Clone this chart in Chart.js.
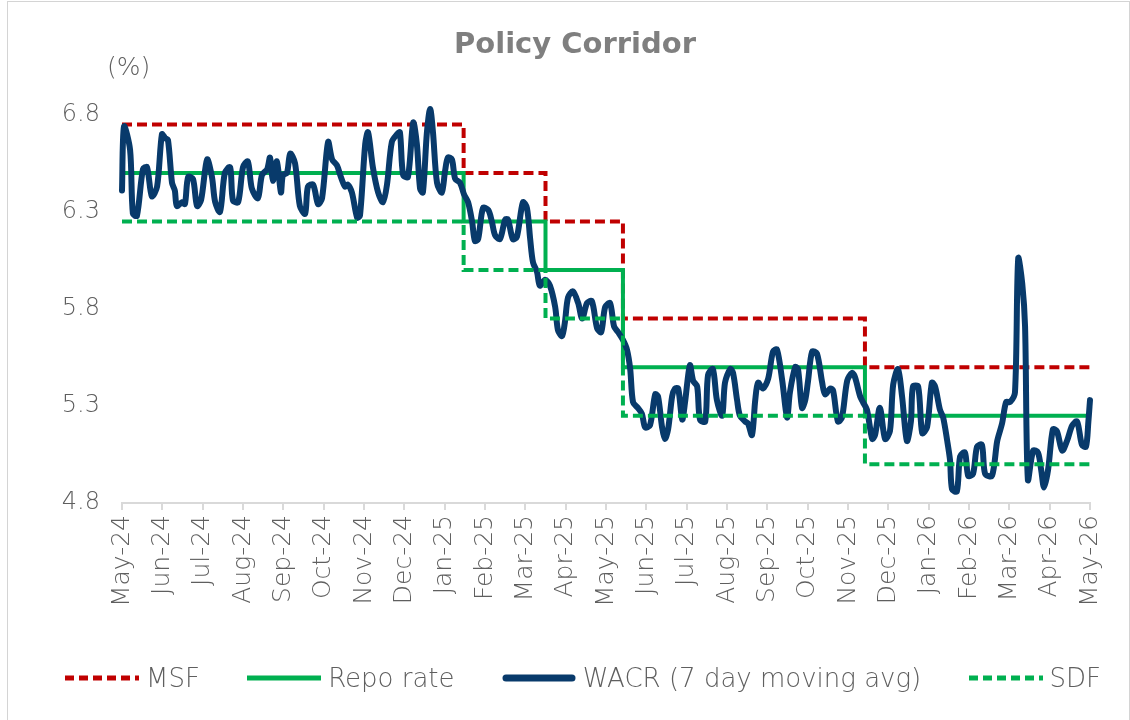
<!DOCTYPE html>
<html>
<head>
<meta charset="utf-8">
<script src="https://cdn.jsdelivr.net/npm/chart.js@4.4.1/dist/chart.umd.min.js"></script>
<style>
    html, body { margin: 0; padding: 0; background: #ffffff; }
    #frame { position: absolute; left: 7px; top: 1px; width: 1121px; height: 730px; border: 1px solid #d4d4d4; }
    #wrap { position: absolute; left: 0; top: 0; width: 1130px; height: 720px; }
    #legend {
        position: absolute; left: 65px; top: 660px; width: 1036px; height: 36px;
        display: flex; justify-content: space-between; align-items: center;
        font-family: "DejaVu Sans", sans-serif; font-weight: 300; font-size: 26px; color: #5f5f5f;
    }
    .legend-item { display: flex; align-items: center; white-space: nowrap; }
    .legend-item svg { margin-right: 7px; }
</style>
</head>
<body>
<div id="frame"></div>
<div id="wrap"><canvas id="corridorChart"></canvas></div>
<div id="legend"></div>
<script>
// Month tick labels (x = month index from May-24)
const monthLabels = ['May-24', 'Jun-24', 'Jul-24', 'Aug-24', 'Sep-24', 'Oct-24', 'Nov-24', 'Dec-24',
    'Jan-25', 'Feb-25', 'Mar-25', 'Apr-25', 'May-25', 'Jun-25', 'Jul-25', 'Aug-25', 'Sep-25',
    'Oct-25', 'Nov-25', 'Dec-25', 'Jan-26', 'Feb-26', 'Mar-26', 'Apr-26', 'May-26'];

// Policy rate changes (month index where each level starts)
const stepMonths = [0, 8.47, 10.5, 12.42, 18.42, 24];
const msfRates   = [6.75, 6.5, 6.25, 5.75, 5.5, 5.5];
const repoRates  = [6.5, 6.25, 6.0, 5.5, 5.25, 5.25];
const sdfRates   = [6.25, 6.0, 5.75, 5.25, 5.0, 5.0];

// WACR, 7 day moving average
const wacrMonths = [
    0.00, 0.05, 0.20, 0.27, 0.37, 0.52, 0.62, 0.74, 0.87, 0.99, 1.07, 1.14, 1.24, 1.31, 1.36, 1.49,
    1.56, 1.64, 1.76, 1.86, 1.96, 2.11, 2.23, 2.31, 2.43, 2.55, 2.68, 2.75, 2.88, 3.00, 3.12, 3.22,
    3.37, 3.47, 3.60, 3.67, 3.74, 3.84, 3.94, 3.99, 4.09, 4.17, 4.29, 4.41, 4.54, 4.61, 4.74, 4.86,
    4.96, 5.11, 5.21, 5.33, 5.41, 5.53, 5.60, 5.70, 5.83, 5.90, 6.03, 6.10, 6.22, 6.35, 6.47, 6.57,
    6.69, 6.82, 6.89, 6.97, 7.09, 7.22, 7.31, 7.39, 7.46, 7.56, 7.64, 7.71, 7.81, 7.93, 8.01, 8.08,
    8.18, 8.26, 8.38, 8.48, 8.58, 8.68, 8.75, 8.83, 8.95, 9.08, 9.17, 9.25, 9.37, 9.50, 9.57, 9.69,
    9.79, 9.94, 10.04, 10.12, 10.19, 10.29, 10.36, 10.49, 10.61, 10.74, 10.81, 10.91, 10.98, 11.06,
    11.18, 11.31, 11.41, 11.53, 11.65, 11.78, 11.88, 11.98, 12.10, 12.20, 12.30, 12.42, 12.52, 12.60,
    12.67, 12.79, 12.89, 12.97, 13.09, 13.22, 13.29, 13.39, 13.46, 13.54, 13.64, 13.71, 13.79, 13.89,
    13.96, 14.08, 14.16, 14.26, 14.33, 14.46, 14.53, 14.65, 14.75, 14.88, 14.95, 15.08, 15.15, 15.25,
    15.32, 15.45, 15.52, 15.62, 15.70, 15.77, 15.89, 16.02, 16.14, 16.24, 16.37, 16.49, 16.56, 16.69,
    16.76, 16.86, 16.94, 17.01, 17.11, 17.23, 17.36, 17.43, 17.56, 17.63, 17.75, 17.85, 17.98, 18.10,
    18.17, 18.30, 18.37, 18.47, 18.60, 18.67, 18.79, 18.92, 19.04, 19.12, 19.24, 19.34, 19.46, 19.56,
    19.61, 19.74, 19.84, 19.96, 20.08, 20.16, 20.28, 20.36, 20.46, 20.53, 20.58, 20.70, 20.78, 20.90,
    20.98, 21.10, 21.20, 21.32, 21.40, 21.57, 21.70, 21.82, 21.92, 22.02, 22.14, 22.22, 22.32, 22.39,
    22.46, 22.59, 22.71, 22.79, 22.86, 22.96, 23.08, 23.18, 23.31, 23.43, 23.56, 23.68, 23.80, 23.90,
    23.96, 24.00
];
const wacrValues = [
    6.41, 6.74, 6.62, 6.29, 6.28, 6.52, 6.53, 6.38, 6.43, 6.70, 6.68, 6.67, 6.45, 6.41, 6.33, 6.35,
    6.34, 6.48, 6.47, 6.33, 6.36, 6.57, 6.48, 6.35, 6.30, 6.50, 6.53, 6.36, 6.35, 6.53, 6.56, 6.42,
    6.37, 6.49, 6.52, 6.58, 6.46, 6.56, 6.40, 6.49, 6.50, 6.60, 6.55, 6.33, 6.29, 6.43, 6.44, 6.34,
    6.37, 6.66, 6.57, 6.54, 6.49, 6.43, 6.44, 6.40, 6.27, 6.28, 6.65, 6.71, 6.53, 6.40, 6.35, 6.44,
    6.66, 6.70, 6.71, 6.49, 6.48, 6.76, 6.65, 6.42, 6.40, 6.71, 6.83, 6.71, 6.45, 6.40, 6.51, 6.58,
    6.57, 6.47, 6.45, 6.39, 6.35, 6.25, 6.15, 6.16, 6.32, 6.31, 6.25, 6.18, 6.16, 6.26, 6.26, 6.16,
    6.17, 6.35, 6.32, 6.16, 6.04, 5.99, 5.92, 5.95, 5.92, 5.81, 5.69, 5.66, 5.73, 5.86,
    5.89, 5.83, 5.75, 5.83, 5.84, 5.70, 5.68, 5.81, 5.83, 5.71, 5.68, 5.64, 5.59, 5.49,
    5.32, 5.29, 5.26, 5.19, 5.20, 5.36, 5.35, 5.19, 5.13, 5.18, 5.35, 5.39, 5.39, 5.23,
    5.32, 5.51, 5.43, 5.40, 5.23, 5.22, 5.46, 5.49, 5.33, 5.25, 5.42, 5.49, 5.47, 5.33,
    5.25, 5.22, 5.21, 5.15, 5.33, 5.42, 5.39, 5.44, 5.58, 5.59, 5.43, 5.24, 5.37, 5.50,
    5.49, 5.29, 5.33, 5.43, 5.58, 5.57, 5.42, 5.36, 5.39, 5.38, 5.22, 5.24, 5.43, 5.47,
    5.45, 5.35, 5.32, 5.28, 5.13, 5.15, 5.29, 5.13, 5.17, 5.41, 5.49, 5.35, 5.12, 5.22,
    5.40, 5.40, 5.16, 5.19, 5.42, 5.40, 5.28, 5.24, 5.12, 5.02, 4.87, 4.86, 5.04, 5.06,
    4.94, 4.95, 5.09, 5.10, 4.95, 4.94, 5.12, 5.21, 5.32, 5.32, 5.37, 6.06, 5.93, 5.71,
    4.92, 5.07, 5.06, 4.97, 4.88, 4.97, 5.18, 5.17, 5.07, 5.12, 5.20, 5.22, 5.10, 5.09,
    5.22, 5.33
];

const fontFamily = '"DejaVu Sans", sans-serif';
const textGrey = '#7f7f7f';
const lightGrey = '#5f5f5f';

function toPoints(xs, ys) {
    return xs.map((x, i) => ({ x: x, y: ys[i] }));
}

// "(%)" unit label above the y axis
const unitLabel = {
    id: 'unitLabel',
    afterDraw(chart) {
        const ctx = chart.ctx;
        ctx.save();
        ctx.font = '300 25px ' + fontFamily;
        ctx.fillStyle = lightGrey;
        ctx.textAlign = 'left';
        ctx.textBaseline = 'middle';
        ctx.fillText('(%)', 107, 68);
        ctx.restore();
    }
};

const ctx = document.getElementById('corridorChart').getContext('2d');
const corridorChart = new Chart(ctx, {
    type: 'line',
    data: {
        datasets: [
            {
                label: 'MSF',
                data: toPoints(stepMonths, msfRates),
                stepped: 'before',
                borderColor: '#c00000',
                borderWidth: 4,
                borderDash: [10, 5],
                pointRadius: 0,
                order: 4
            },
            {
                label: 'Repo rate',
                data: toPoints(stepMonths, repoRates),
                stepped: 'before',
                borderColor: '#00b050',
                borderWidth: 4,
                pointRadius: 0,
                order: 3
            },
            {
                label: 'WACR (7 day moving avg)',
                data: toPoints(wacrMonths, wacrValues),
                borderColor: '#083a6b',
                borderWidth: 6,
                borderCapStyle: 'round',
                borderJoinStyle: 'round',
                tension: 0.3,
                pointRadius: 0,
                clip: 12,
                order: 2
            },
            {
                label: 'SDF',
                data: toPoints(stepMonths, sdfRates),
                stepped: 'before',
                borderColor: '#00b050',
                borderWidth: 4,
                borderDash: [10, 5],
                pointRadius: 0,
                order: 1
            }
        ]
    },
    options: {
        responsive: true,
        maintainAspectRatio: false,
        animation: false,
        layout: {
            padding: { left: 60, right: 40, top: 0, bottom: 84 }
        },
        scales: {
            x: {
                type: 'linear',
                min: 0,
                max: 24,
                afterFit: scale => { scale.height = 133; },
                border: { display: true, color: '#d9d9d9', width: 2 },
                grid: {
                    drawOnChartArea: false,
                    drawTicks: true,
                    tickLength: 7,
                    color: '#d9d9d9',
                    lineWidth: 2
                },
                ticks: {
                    stepSize: 1,
                    autoSkip: false,
                    maxRotation: 90,
                    minRotation: 90,
                    padding: 5,
                    color: lightGrey,
                    font: { family: fontFamily, size: 25, weight: 300 },
                    callback: value => monthLabels[value]
                }
            },
            y: {
                min: 4.8,
                max: 6.8,
                afterFit: scale => { scale.width = 62; },
                border: { display: false },
                grid: { display: false, drawTicks: false },
                ticks: {
                    stepSize: 0.5,
                    padding: 22,
                    color: lightGrey,
                    font: { family: fontFamily, size: 24, weight: 300 },
                    callback: value => value.toFixed(1)
                }
            }
        },
        plugins: {
            title: {
                display: true,
                text: 'Policy Corridor',
                color: textGrey,
                font: { family: fontFamily, size: 29, weight: 'bold' },
                padding: { top: 28, bottom: 52 }
            },
            legend: { display: false },
            tooltip: { enabled: false }
        }
    },
    plugins: [unitLabel]
});

// Build the legend row from the datasets (line samples + labels)
function buildLegend(chart) {
    const legendDiv = document.getElementById('legend');
    legendDiv.innerHTML = '';
    chart.data.datasets.forEach(ds => {
        const item = document.createElement('div');
        item.className = 'legend-item';
        const dash = ds.borderDash ? 'stroke-dasharray="9 5"' : '';
        const cap = ds.borderCapStyle === 'round' ? 'round' : 'butt';
        const pad = cap === 'round' ? 4 : 0;
        item.innerHTML = `
            <svg width="74" height="12">
                <line x1="${pad}" y1="6" x2="${74 - pad}" y2="6" stroke="${ds.borderColor}"
                      stroke-width="${ds.borderWidth + 1}" stroke-linecap="${cap}" ${dash}/>
            </svg>
            <span>${ds.label}</span>
        `;
        legendDiv.appendChild(item);
    });
}
buildLegend(corridorChart);
</script>
</body>
</html>
